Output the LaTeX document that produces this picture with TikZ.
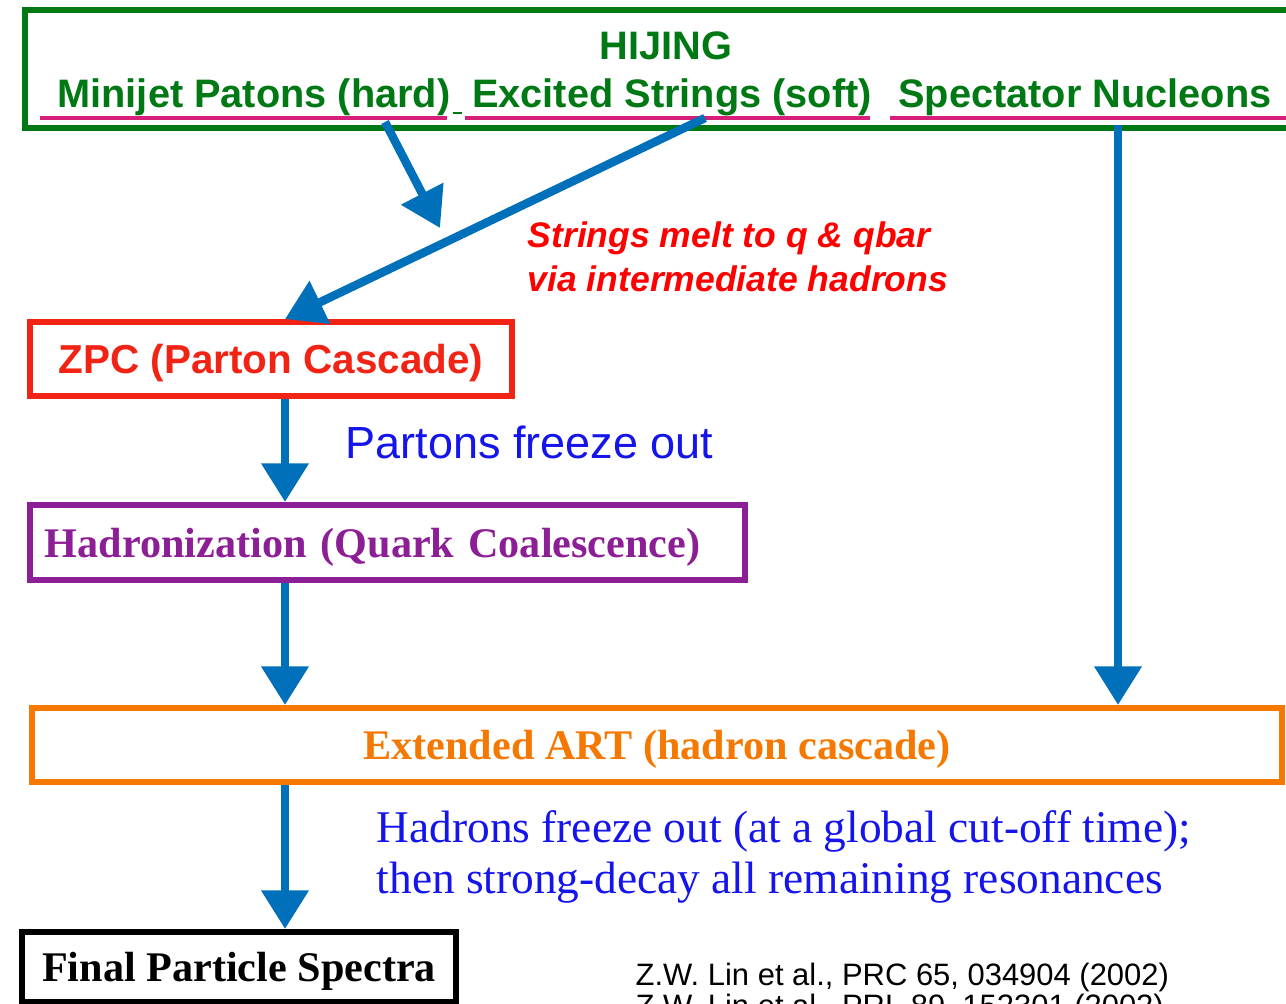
\documentclass[tikz,border=0pt]{standalone}
\usepackage{fontspec}
\setmainfont{Liberation Serif}
\setsansfont{Liberation Sans}
\usetikzlibrary{arrows.meta}

\definecolor{hijgreen}{RGB}{0,120,20}
\definecolor{ulmagenta}{RGB}{215,30,120}
\definecolor{arrowblue}{RGB}{0,112,186}
\definecolor{zpcred}{RGB}{240,35,20}
\definecolor{meltred}{RGB}{255,0,0}
\definecolor{hadpurple}{RGB}{140,30,150}
\definecolor{artorange}{RGB}{245,120,0}
\definecolor{noteblue}{RGB}{20,20,235}

\begin{document}
\begin{tikzpicture}[x=0.01cm,y=-0.01cm,
  box/.style={draw,line width=1.7pt,inner sep=0pt,text depth=0pt},
  flow/.style={arrowblue,line width=2.4pt,-{Triangle[width=13pt,length=11pt]}},
  uline/.style={ulmagenta,line width=0.9pt},
  greentxt/.style={hijgreen,anchor=base,inner sep=0pt,font=\sffamily\bfseries\fontsize{11.3}{13}\selectfont},
  melttxt/.style={meltred,anchor=base west,inner sep=0pt,font=\sffamily\bfseries\itshape\fontsize{10.1}{12}\selectfont},
  notetxt/.style={noteblue,anchor=base west,inner sep=0pt},
  serifbox/.style={font=\rmfamily\bfseries\fontsize{12}{14}\selectfont}]

\useasboundingbox (0,0) rectangle (1286,1004);

% HIJING
\node[box,hijgreen,minimum width=12.75cm,minimum height=1.18cm] (hijing) at (662.5,69) {};
\node[greentxt] (hijtitle) at (666,60) {HIJING};
\node[greentxt] (minijet) at (254,108) {Minijet Patons (hard)};
\node[greentxt] (strings) at (672,108) {Excited Strings (soft)};
\node[greentxt] (spectator) at (1085,108) {Spectator Nucleons};

\draw [uline] (40,118) -- (447,118);
\draw [uline] (465,118) -- (870,118);
\draw [uline] (890,118) -- (1290,118);
\draw [hijgreen,line width=0.7pt] (453,113) -- (462,113);

% stages
\node[box,zpcred,minimum width=4.82cm,minimum height=0.74cm,
  font=\sffamily\bfseries\fontsize{11.5}{13}\selectfont] (zpc) at (271,359) {ZPC (Parton Cascade)};
\node[box,hadpurple,serifbox,minimum height=0.75cm,text width=6.85cm,inner xsep=0.15cm,align=left] (hadr) at (387.5,542.5) {Hadronization (Quark Coalescence)};
\node[box,artorange,serifbox,minimum width=12.5cm,minimum height=0.74cm] (art) at (657,745) {Extended ART (hadron cascade)};
\node[box,black,serifbox,minimum width=4.34cm,minimum height=0.70cm] (final) at (239,967) {Final Particle Spectra};

% labels
\node[melttxt] (melt1) at (527,248) {Strings melt to q \& qbar};
\node[melttxt] (melt2) at (527,292) {via intermediate hadrons};
\node[notetxt,font=\sffamily\fontsize{12.8}{15}\selectfont] (pfreeze) at (345,459) {Partons freeze out};
\node[notetxt,font=\rmfamily\fontsize{12.9}{14.5}\selectfont] (hfreeze1) at (376,842) {Hadrons freeze out (at a global cut-off time);};
\node[notetxt,font=\rmfamily\fontsize{12.9}{14.5}\selectfont] (hfreeze2) at (376,893) {then strong-decay all remaining resonances};
\node[black,anchor=base west,inner sep=0pt,font=\sffamily\fontsize{8.8}{10}\selectfont] (ref1) at (635,985) {Z.W. Lin et al., PRC 65, 034904 (2002)};
\node[black,anchor=base west,inner sep=0pt,font=\sffamily\fontsize{8.8}{10}\selectfont] (ref2) at (635,1016) {Z.W. Lin et al., PRL 89, 152301 (2002)};

% arrows
\coordinate (spine) at (285,0);
\coordinate (hardout) at (385,122);
\coordinate (hardin) at (440,228);
\coordinate (softout) at (705,118);
\coordinate (nuclout) at (1118,125);

\draw [flow] (hardout) -- (hardin);
\draw [flow] (softout) -- (zpc.north -| spine);
\draw [flow] (nuclout) -- (art.north -| nuclout);
\draw [flow] (zpc.south -| spine) -- (hadr.north -| spine);
\draw [flow] (hadr.south -| spine) -- (art.north -| spine);
\draw [flow] (art.south -| spine) -- (final.north -| spine);

\end{tikzpicture}
\end{document}
